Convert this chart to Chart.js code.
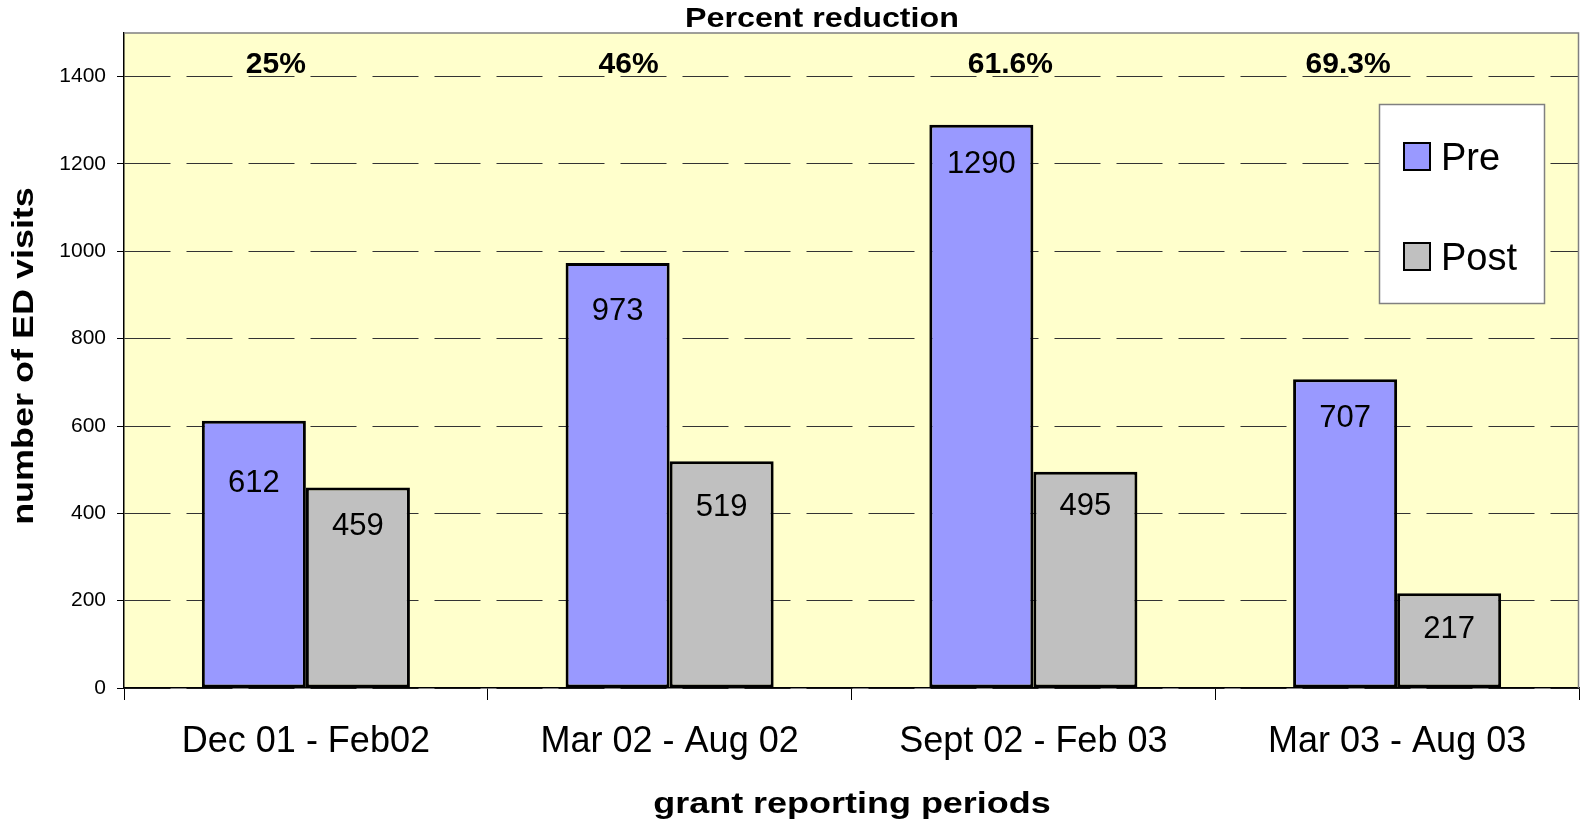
<!DOCTYPE html>
<html>
<head>
<meta charset="utf-8">
<script src="https://cdn.jsdelivr.net/npm/chart.js@4.4.1/dist/chart.umd.min.js"></script>
<style>
  html, body { margin: 0; padding: 0; background: #fff; }
  #wrap { width: 1580px; height: 825px; }
</style>
</head>
<body>
<div id="wrap"><canvas id="edChart" width="1580" height="825"></canvas></div>
<script>
// data
const periods = ['Dec 01 - Feb02', 'Mar 02 - Aug 02', 'Sept 02 - Feb 03', 'Mar 03 - Aug 03'];
const preVisits = [612, 973, 1290, 707];
const postVisits = [459, 519, 495, 217];
const reductions = ['25%', '46%', '61.6%', '69.3%'];
const yTicks = [0, 200, 400, 600, 800, 1000, 1200, 1400];

// label placement (px), style only
const preLabelOffset = [63, 48, 40, 39];
const postLabelOffset = [39, 46, 35, 36];
const reductionShift = [-30, -41, -23, -49];

const FONT = '"Liberation Sans", Arial, sans-serif';

// draws a string stretched along its own direction
function stretchedText(ctx, text, x, y, font, sx, angle) {
    ctx.save();
    ctx.translate(x, y);
    if (angle) ctx.rotate(angle);
    ctx.scale(sx, 1);
    ctx.font = font;
    ctx.fillStyle = '#000';
    ctx.textAlign = 'center';
    ctx.textBaseline = 'alphabetic';
    ctx.fillText(text, 0, 0);
    ctx.restore();
}

const decor = {
    id: 'decor',
    beforeDraw(chart) {
        const {ctx, chartArea: a} = chart;
        ctx.save();
        ctx.fillStyle = '#FFFFCC';
        ctx.fillRect(a.left, a.top, a.right - a.left, a.bottom - a.top);
        ctx.restore();
    },
    afterDatasetsDraw(chart) {
        const {ctx, chartArea: a} = chart;
        const x = chart.scales.x;

        // grey frame top + right
        ctx.save();
        ctx.strokeStyle = '#808080';
        ctx.lineWidth = 1.5;
        ctx.beginPath();
        ctx.moveTo(a.left, a.top);
        ctx.lineTo(a.right - 0.5, a.top);
        ctx.lineTo(a.right - 0.5, a.bottom);
        ctx.stroke();
        ctx.restore();

        // values inside bars
        ctx.save();
        ctx.font = '31px ' + FONT;
        ctx.fillStyle = '#000';
        ctx.textAlign = 'center';
        ctx.textBaseline = 'middle';
        chart.getDatasetMeta(0).data.forEach((bar, i) => {
            ctx.fillText(String(preVisits[i]), bar.x, bar.y + preLabelOffset[i]);
        });
        chart.getDatasetMeta(1).data.forEach((bar, i) => {
            ctx.fillText(String(postVisits[i]), bar.x, bar.y + postLabelOffset[i]);
        });
        ctx.restore();

        // percent reduction labels
        ctx.save();
        ctx.font = 'bold 30px ' + FONT;
        ctx.fillStyle = '#000';
        ctx.textAlign = 'center';
        ctx.textBaseline = 'alphabetic';
        reductions.forEach((txt, i) => {
            ctx.fillText(txt, x.getPixelForValue(i) + reductionShift[i], 73);
        });
        ctx.restore();

        // legend box
        ctx.save();
        ctx.fillStyle = '#fff';
        ctx.fillRect(1379, 104, 166, 200);
        ctx.strokeStyle = '#808080';
        ctx.lineWidth = 1.5;
        ctx.strokeRect(1379.5, 104.5, 165, 199);
        chart.data.datasets.forEach((ds, i) => {
            const top = 143 + i * 100;
            ctx.fillStyle = ds.backgroundColor;
            ctx.fillRect(1404, top, 26, 27);
            ctx.strokeStyle = '#000';
            ctx.lineWidth = 2;
            ctx.strokeRect(1404, top, 26, 27);
            ctx.fillStyle = '#000';
            ctx.font = '38px ' + FONT;
            ctx.textAlign = 'left';
            ctx.textBaseline = 'alphabetic';
            ctx.fillText(ds.label, 1441, top + 27);
        });
        ctx.restore();
    },
    afterDraw(chart) {
        const {ctx} = chart;
        stretchedText(ctx, 'Percent reduction', 822, 27, 'bold 28px ' + FONT, 1.15, 0);
        stretchedText(ctx, 'grant reporting periods', 852, 813, 'bold 29px ' + FONT, 1.24, 0);
        stretchedText(ctx, 'number of ED visits', 33, 356, 'bold 29px ' + FONT, 1.24, -Math.PI / 2);
    }
};

new Chart(document.getElementById('edChart'), {
    type: 'bar',
    data: {
        labels: periods,
        datasets: [{
            label: 'Pre',
            data: preVisits,
            backgroundColor: '#9999FF',
            borderColor: '#000',
            borderWidth: 3,
            borderSkipped: false
        }, {
            label: 'Post',
            data: postVisits,
            backgroundColor: '#C0C0C0',
            borderColor: '#000',
            borderWidth: 3,
            borderSkipped: false
        }]
    },
    options: {
        responsive: false,
        animation: false,
        layout: { padding: { top: 33, right: 1, left: 0, bottom: 0 } },
        datasets: { bar: { categoryPercentage: 0.572, barPercentage: 1.0 } },
        plugins: {
            legend: { display: false },
            tooltip: { enabled: false },
            title: { display: false }
        },
        scales: {
            x: {
                offset: true,
                afterFit(scale) { scale.height = 137; },
                grid: {
                    offset: true,
                    drawOnChartArea: false,
                    tickLength: 12,
                    tickColor: '#000',
                    tickWidth: 1
                },
                border: { display: true, color: '#000', width: 1.5 },
                ticks: {
                    color: '#000',
                    font: { family: FONT, size: 36 },
                    padding: 20,
                    maxRotation: 0,
                    autoSkip: false
                }
            },
            y: {
                min: 0,
                max: 1500,
                afterFit(scale) { scale.width = 124; },
                afterBuildTicks(scale) { scale.ticks = yTicks.map(v => ({ value: v })); },
                grid: {
                    color: '#333',
                    lineWidth: 1,
                    tickLength: 7,
                    tickColor: '#000',
                    tickBorderDash: []
                },
                border: { display: true, color: '#000', width: 1.5, dash: [46, 16] },
                ticks: {
                    color: '#000',
                    font: { family: FONT, size: 21 },
                    padding: 11,
                    callback: v => String(v)
                }
            }
        }
    },
    plugins: [decor]
});
</script>
</body>
</html>
